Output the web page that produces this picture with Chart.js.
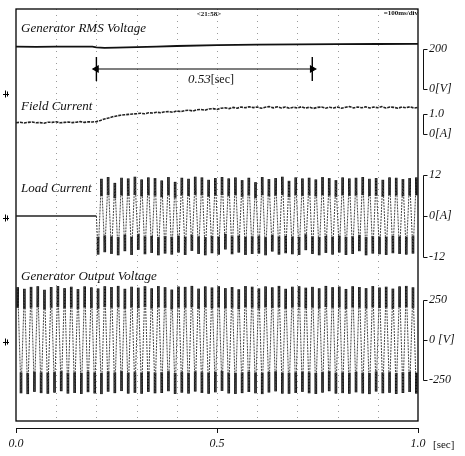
<!DOCTYPE html>
<html>
<head>
<meta charset="utf-8">
<script src="https://cdn.jsdelivr.net/npm/chart.js@4.4.1/dist/chart.umd.min.js"></script>
<style>
  html, body { margin: 0; padding: 0; background: #fff; }
</style>
</head>
<body>
<canvas id="scope" width="465" height="456"></canvas>
<script>
// time axis [sec]
const timeTicks = [0, 0.5, 1.0];
const gridTimes = [0.1, 0.2, 0.3, 0.4, 0.5, 0.6, 0.7, 0.8, 0.9];

// Generator RMS voltage [V]
const rmsTimes = [0, 0.05, 0.1, 0.15, 0.19, 0.2, 0.22, 0.25, 0.3, 0.35, 0.4, 0.5, 0.6, 0.7, 0.8, 0.9, 1.0];
const rmsVolts = [212, 211, 212, 212, 212, 208, 206, 207, 209, 212, 215, 219, 222, 223, 224, 225, 226];

// Field current [A], one reading every 10 ms
const fieldStep = 0.01;
const fieldAmps = [
  0.56, 0.59, 0.55, 0.58, 0.60, 0.56, 0.57, 0.54, 0.59, 0.58,
  0.61, 0.56, 0.58, 0.60, 0.57, 0.59, 0.62, 0.58, 0.61, 0.60,
  0.62, 0.68, 0.75, 0.80, 0.86, 0.90, 0.94, 0.96, 0.98, 1.00,
  1.01, 1.04, 1.01, 1.06, 1.05, 1.09, 1.06, 1.11, 1.12, 1.09,
  1.15, 1.12, 1.17, 1.19, 1.15, 1.21, 1.23, 1.19, 1.25, 1.27,
  1.23, 1.29, 1.31, 1.27, 1.33, 1.29, 1.35, 1.31, 1.36, 1.32,
  1.35, 1.29, 1.34, 1.37, 1.31, 1.36, 1.30, 1.35, 1.29, 1.34,
  1.30, 1.36, 1.29, 1.34, 1.28, 1.33, 1.35, 1.29, 1.34, 1.30,
  1.35, 1.29, 1.34, 1.37, 1.30, 1.35, 1.31, 1.36, 1.30, 1.35,
  1.31, 1.37, 1.30, 1.35, 1.33, 1.29, 1.35, 1.31, 1.36, 1.30, 1.33
];

// Load current [A]: switched on at 0.2 s, then half-cycle peaks of the 60 Hz wave
const loadOnTime = 0.2;
const halfCycle = 1 / 120;
const loadPeaks = [
  -11.2, 10.8, -10.5, 11.3, -11.0, 9.6, -11.4, 11.1, -10.2, 10.9, -11.3, 11.4, -9.8, 10.6, -11.1, 11.2,
  -10.7, 11.0, -11.4, 10.3, -10.9, 11.3, -11.2, 9.9, -10.6, 11.1, -11.3, 10.8, -10.1, 11.4, -11.0, 11.2,
  -11.4, 10.5, -10.8, 11.0, -11.2, 11.3, -9.7, 10.9, -11.1, 11.2, -10.6, 10.4, -11.3, 11.1, -11.0, 9.8,
  -10.9, 11.3, -11.4, 10.7, -10.3, 11.0, -11.2, 11.4, -10.8, 10.2, -11.1, 11.2, -11.3, 10.9, -9.9, 11.1,
  -11.0, 10.6, -11.4, 11.3, -10.7, 11.0, -11.2, 10.4, -10.6, 11.2, -11.3, 10.9, -11.0, 11.1, -10.2, 11.3,
  -11.4, 10.8, -10.9, 11.0, -11.1, 10.5, -11.3, 11.2, -10.8, 11.1, -11.0, 10.7, -11.2, 11.0, -10.9, 11.2
];

// Generator output voltage [V], half-cycle peaks
const outPeaks = [
  328, -331, 318, -336, 330, -322, 334, -330, 312, -334, 329, -327, 335, -318, 322, -333, 331, -329, 316, -335,
  333, -324, 327, -332, 320, -336, 334, -321, 329, -330, 336, -317, 318, -333, 331, -328, 325, -334, 334, -322,
  321, -331, 335, -329, 328, -318, 313, -335, 332, -327, 330, -333, 336, -320, 319, -329, 333, -334, 326, -325,
  334, -316, 322, -332, 329, -335, 315, -330, 335, -323, 331, -331, 320, -336, 333, -326, 327, -319, 336, -333,
  318, -334, 331, -329, 334, -322, 325, -331, 330, -335, 321, -327, 336, -318, 328, -333, 332, -330, 317, -334,
  334, -325, 329, -332, 322, -336, 335, -320, 326, -331, 331, -328, 319, -335, 333, -329, 336, -323, 327, -333
];

// the 0.53 sec marker on the RMS trace
const measureStart = 0.2;
const measureEnd = 0.737;
const measureLevel = 100;
const measureBar = [160, 40];

// right-hand scale ticks and their labels
const rmsTicks = [200, 0];
const rmsTickLabels = ['200', '0[V]'];
const fieldTicks = [1.0, 0];
const fieldTickLabels = ['1.0', '0[A]'];
const loadTicks = [12, 0, -12];
const loadTickLabels = ['12', '0[A]', '-12'];
const outTicks = [250, 0, -250];
const outTickLabels = ['250', '0 [V]', '-250'];

const serif = '"Liberation Serif", "Times New Roman", serif';

const rmsData = rmsTimes.map((t, i) => ({ x: t, y: rmsVolts[i] }));
const fieldData = fieldAmps.map((a, i) => ({ x: i * fieldStep, y: a }));
const loadIdle = [{ x: 0, y: 0 }, { x: loadOnTime, y: 0 }];
const loadSwing = loadPeaks.map((a, i) => ({ x: loadOnTime + (i + 0.5) * halfCycle, y: a }));
const loadData = [loadIdle[1]].concat(loadSwing);
const outData = outPeaks.map((v, i) => ({ x: (i + 0.5) * halfCycle, y: v }));
// dark crest strokes of the scope trace, on the same peaks
const crest = (pts, keep) => pts.map(p => ({ x: p.x, y: [p.y, p.y * keep] }));

function rightAxis(weight, min, max, ticks, labels) {
  return {
    type: 'linear',
    position: 'right',
    stack: 'scope',
    stackWeight: weight,
    min: min,
    max: max,
    afterBuildTicks: s => { s.ticks = ticks.map(v => ({ value: v })); },
    afterFit: s => { s.width = 47; },
    grid: { drawOnChartArea: false, drawTicks: true, tickLength: 11, tickColor: 'rgba(0,0,0,0)' },
    border: { display: false },
    ticks: {
      autoSkip: false,
      padding: 0,
      color: '#111',
      font: { family: serif, style: 'italic', size: 12 },
      callback: v => labels[ticks.indexOf(v)]
    }
  };
}

const traceLabels = [
  { text: 'Generator RMS Voltage', axis: 'yRms', value: 300 },
  { text: 'Field Current', axis: 'yField', value: 1.35 },
  { text: 'Load Current', axis: 'yLoad', value: 7.9 },
  { text: 'Generator Output Voltage', axis: 'yOut', value: 394 }
];
// channel ground markers on the left edge
const groundMarks = [
  { axis: 'yRms', value: -25 },
  { axis: 'yLoad', value: -0.5 },
  { axis: 'yOut', value: -15 }
];

const scopePlugin = {
  id: 'scope',
  beforeDatasetsDraw(chart) {
    const { ctx, chartArea: a, scales } = chart;
    const frameBottom = a.bottom - 7;
    ctx.save();
    ctx.strokeStyle = '#9a9a9a';
    ctx.lineWidth = 1;
    ctx.setLineDash([1, 5]);
    gridTimes.forEach(t => {
      const x = Math.round(scales.x.getPixelForValue(t)) + 0.5;
      ctx.beginPath();
      ctx.moveTo(x, a.top);
      ctx.lineTo(x, frameBottom);
      ctx.stroke();
    });
    ctx.setLineDash([]);
    ctx.strokeStyle = '#000';
    ctx.lineWidth = 1.3;
    ctx.strokeRect(a.left, a.top, a.right - a.left, frameBottom - a.top);
    // ground markers
    ctx.lineWidth = 1;
    groundMarks.forEach(m => {
      const y = Math.round(scales[m.axis].getPixelForValue(m.value)) + 0.5;
      ctx.beginPath();
      ctx.moveTo(3, y); ctx.lineTo(9, y);
      ctx.moveTo(5.5, y - 4); ctx.lineTo(5.5, y + 3);
      ctx.moveTo(7.5, y - 3); ctx.lineTo(7.5, y + 2);
      ctx.stroke();
    });
    ctx.restore();
  },
  afterDatasetsDraw(chart) {
    const { ctx, chartArea: a, scales } = chart;
    ctx.save();
    ctx.fillStyle = '#111';
    ctx.textBaseline = 'middle';
    ctx.font = 'italic 13px ' + serif;
    traceLabels.forEach(l => {
      ctx.fillText(l.text, a.left + 5, scales[l.axis].getPixelForValue(l.value));
    });
    // 0.53[sec]
    const mx = scales.x.getPixelForValue(0.485);
    const my = scales.yRms.getPixelForValue(45);
    ctx.font = 'italic 13px ' + serif;
    const w1 = ctx.measureText('0.53').width;
    ctx.font = '12px ' + serif;
    const w2 = ctx.measureText('[sec]').width;
    const x0 = mx - (w1 + w2) / 2;
    ctx.font = 'italic 13px ' + serif;
    ctx.fillText('0.53', x0, my);
    ctx.font = '12px ' + serif;
    ctx.fillText('[sec]', x0 + w1, my);
    // header marks
    ctx.font = 'bold 7px ' + serif;
    ctx.textAlign = 'center';
    ctx.fillText('<21:58>', scales.x.getPixelForValue(0.48), a.top + 5);
    ctx.textAlign = 'right';
    ctx.fillText('=100ms/div', a.right, a.top + 4);
    ctx.restore();
  },
  afterDraw(chart) {
    const { ctx, chartArea: a, scales } = chart;
    ctx.save();
    ctx.strokeStyle = '#111';
    ctx.lineWidth = 1;
    const bx = a.right + 5.5;
    ['yRms', 'yField', 'yLoad', 'yOut'].forEach(id => {
      const s = scales[id];
      const px = s.ticks.map(t => Math.round(s.getPixelForValue(t.value)) + 0.5);
      ctx.beginPath();
      ctx.moveTo(bx, Math.min(...px));
      ctx.lineTo(bx, Math.max(...px));
      px.forEach(p => { ctx.moveTo(bx, p); ctx.lineTo(bx + 4, p); });
      ctx.stroke();
    });
    // unit after the last time label
    ctx.fillStyle = '#111';
    ctx.font = '11px ' + serif;
    ctx.textBaseline = 'middle';
    ctx.fillText('[sec]', scales.x.getPixelForValue(1) + 15, a.bottom + 17);
    ctx.restore();
  }
};

new Chart(document.getElementById('scope'), {
  type: 'line',
  data: {
    datasets: [
      { data: rmsData, yAxisID: 'yRms', borderColor: '#111', borderWidth: 1.8, pointRadius: 0 },
      { data: fieldData, yAxisID: 'yField', borderColor: '#222', borderWidth: 1.6, borderDash: [3, 1], pointRadius: 0 },
      { data: loadIdle, yAxisID: 'yLoad', borderColor: '#222', borderWidth: 1.4, pointRadius: 0 },
      { data: loadData, yAxisID: 'yLoad', borderColor: '#444', borderWidth: 1, borderDash: [2, 1], pointRadius: 0 },
      { data: outData, yAxisID: 'yOut', borderColor: '#444', borderWidth: 1, borderDash: [2, 1], pointRadius: 0 },
      {
        type: 'bar', data: crest(loadSwing, 0.55), yAxisID: 'yLoad',
        backgroundColor: '#111', barThickness: 2, grouped: false
      },
      {
        type: 'bar', data: crest(outData, 0.62), yAxisID: 'yOut',
        backgroundColor: '#111', barThickness: 2, grouped: false
      },
      {
        data: [{ x: measureStart, y: measureLevel }, { x: measureEnd, y: measureLevel }],
        yAxisID: 'yRms', borderColor: '#000', borderWidth: 1.2,
        pointStyle: 'triangle', pointRotation: [-90, 90], pointRadius: 3.5,
        pointBackgroundColor: '#000', pointBorderColor: '#000'
      },
      {
        data: measureBar.map(v => ({ x: measureStart, y: v })),
        yAxisID: 'yRms', borderColor: '#000', borderWidth: 1.4, pointRadius: 0
      },
      {
        data: measureBar.map(v => ({ x: measureEnd, y: v })),
        yAxisID: 'yRms', borderColor: '#000', borderWidth: 1.4, pointRadius: 0
      }
    ]
  },
  options: {
    responsive: false,
    animation: false,
    devicePixelRatio: 1,
    layout: { padding: { left: 16, top: 9, right: 0, bottom: 0 } },
    plugins: { legend: { display: false }, tooltip: { enabled: false } },
    elements: { line: { tension: 0 } },
    scales: {
      x: {
        type: 'linear',
        min: 0,
        max: 1,
        offset: false,
        afterBuildTicks: s => { s.ticks = timeTicks.map(v => ({ value: v })); },
        afterFit: s => { s.height = 28; },
        grid: { drawOnChartArea: false, tickLength: 5, color: '#111', offset: false },
        border: { color: '#111', width: 1 },
        ticks: {
          padding: 4,
          maxRotation: 0,
          color: '#111',
          font: { family: serif, style: 'italic', size: 12 },
          callback: v => v.toFixed(1)
        }
      },
      yRms: rightAxis(91, -55, 400, rmsTicks, rmsTickLabels),
      yField: rightAxis(60, -1.3, 1.7, fieldTicks, fieldTickLabels),
      yLoad: rightAxis(110, -15.8, 16.39, loadTicks, loadTickLabels),
      yOut: rightAxis(158, -550, 437.5, outTicks, outTickLabels)
    }
  },
  plugins: [scopePlugin]
});
</script>
</body>
</html>
